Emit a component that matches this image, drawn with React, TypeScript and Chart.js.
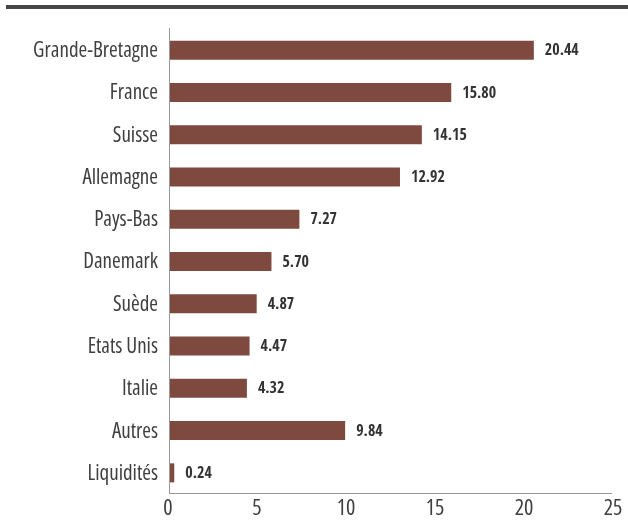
import React, { useEffect, useRef } from "react";
import { Chart, registerables } from "chart.js";

Chart.register(...registerables);

const categories = [
  "Grande-Bretagne",
  "France",
  "Suisse",
  "Allemagne",
  "Pays-Bas",
  "Danemark",
  "Suède",
  "Etats Unis",
  "Italie",
  "Autres",
  "Liquidités",
];
const values = [20.44, 15.8, 14.15, 12.92, 7.27, 5.7, 4.87, 4.47, 4.32, 9.84, 0.24];
const xTicks = [0, 5, 10, 15, 20, 25];

const LABEL_FONT = "'Open Sans', 'Roboto Condensed', sans-serif";
const VALUE_FONT = "'Open Sans Condensed', 'Roboto Condensed', sans-serif";

const customText = {
  id: "customText",
  afterDraw(chart: any) {
    const ctx = chart.ctx;
    const xs = chart.scales.x;
    const ys = chart.scales.y;
    const area = chart.chartArea;
    ctx.save();
    // axis lines
    ctx.strokeStyle = "#999999";
    ctx.lineWidth = 1;
    ctx.beginPath();
    ctx.moveTo(area.left, Math.round(area.bottom) - 0.5);
    ctx.lineTo(612, Math.round(area.bottom) - 0.5);
    ctx.stroke();
    ctx.beginPath();
    ctx.moveTo(Math.round(area.left) - 0.5, area.top - 1);
    ctx.lineTo(Math.round(area.left) - 0.5, Math.round(area.bottom));
    ctx.stroke();

    // category labels
    ctx.fillStyle = "#404040";
    ctx.font = `400 21px ${LABEL_FONT}`;
    (ctx as any).fontStretch = "condensed";
    ctx.textAlign = "right";
    ctx.textBaseline = "middle";
    categories.forEach((c, i) => {
      ctx.fillText(c, area.left - 12, ys.getPixelForValue(i) + 1);
    });
    // x tick labels
    ctx.font = `400 22px ${LABEL_FONT}`;
    (ctx as any).fontStretch = "condensed";
    ctx.textAlign = "center";
    ctx.textBaseline = "top";
    xTicks.forEach((v) => {
      ctx.fillText(String(v), xs.getPixelForValue(v) - 2, area.bottom + 4);
    });
    // value labels
    (ctx as any).fontStretch = "normal";
    ctx.font = `bold 16px ${VALUE_FONT}`;
    ctx.fillStyle = "#333333";
    ctx.textAlign = "left";
    ctx.textBaseline = "middle";
    const meta = chart.getDatasetMeta(0);
    meta.data.forEach((bar: any, i: number) => {
      ctx.fillText(values[i].toFixed(2), bar.x + 11, bar.y + 1);
    });
    ctx.restore();
  },
};

export default function App() {
  const ref = useRef<HTMLCanvasElement>(null);
  useEffect(() => {
    if (!ref.current) return;
    const chart = new Chart(ref.current, {
      type: "bar",
      data: {
        labels: categories,
        datasets: [
          {
            data: values,
            backgroundColor: "#7e4a40",
            barPercentage: 0.45,
            categoryPercentage: 1,
          },
        ],
      },
      options: {
        indexAxis: "y",
        animation: false,
        responsive: true,
        maintainAspectRatio: false,
        layout: { padding: { top: 29, right: 13, left: 0, bottom: 0 } },
        plugins: { legend: { display: false }, tooltip: { enabled: false } },
        scales: {
          x: {
            min: 0,
            max: 25,
            afterBuildTicks: (s: any) => {
              s.ticks = xTicks.map((v) => ({ value: v }));
            },
            afterFit: (s: any) => {
              s.height = 36;
            },
            grid: { display: false, drawTicks: false },
            border: { display: false },
            ticks: { display: false },
          },
          y: {
            afterFit: (s: any) => {
              s.width = 170;
            },
            grid: { display: false, drawTicks: false },
            border: { display: false },
            ticks: { display: false },
          },
        },
      },
      plugins: [customText],
    });
    return () => chart.destroy();
  }, []);
  return (
    <div style={{ position: "fixed", left: 0, top: 0, width: 628, height: 530, background: "#fff" }}>
      <div
        style={{
          position: "absolute",
          left: 6,
          right: 0,
          top: 5,
          height: 4,
          background: "#464646",
        }}
      />
      <canvas ref={ref} />
    </div>
  );
}
